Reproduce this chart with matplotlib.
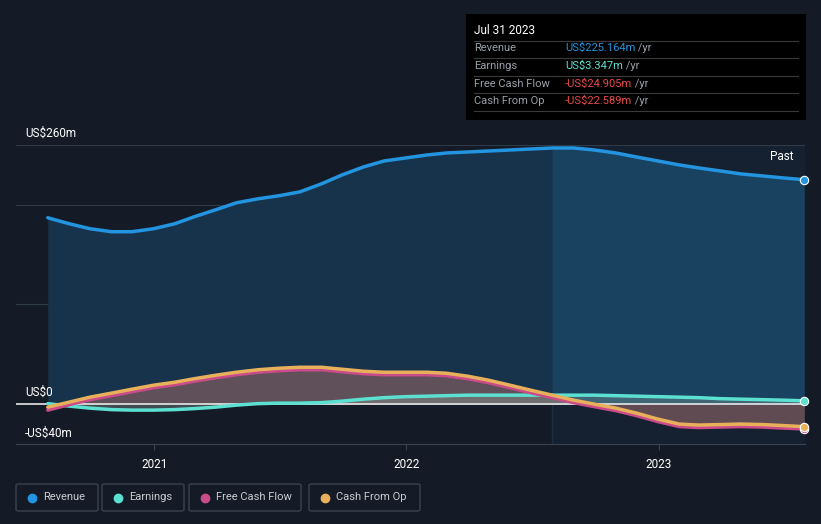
import pandas as pd
import numpy as np
import matplotlib
matplotlib.use('Agg')
from matplotlib import pyplot as plt
from matplotlib.patches import Rectangle, FancyBboxPatch
from matplotlib.lines import Line2D

plt.rcParams['font.family'] = ['Roboto', 'DejaVu Sans']

# month-end dates, Jul 2020 .. Jul 2023; values in US$m
dates = pd.date_range('2020-07-31', '2023-07-31', freq='ME')
revenue = [187, 181, 176, 173, 173, 176, 181, 188, 195, 202,
           206, 209, 213, 221, 230, 238, 244, 247, 250, 252,
           253, 254, 255, 256, 257, 257, 255, 252, 248, 244,
           240, 237, 234, 231, 229, 227, 225.164]
earnings = [0.5, -2, -4, -5.5, -6, -6, -5.5, -4.5, -3, -1,
            0.5, 1, 1, 1.5, 3, 5, 6.5, 7.5, 8, 8.5,
            9, 9, 9, 9, 9, 9, 9, 8.5, 8, 7.5,
            7, 6.5, 5.5, 5, 4.5, 4, 3.347]
cash_from_op = [-3, 2, 7, 11, 15, 19, 22, 25.5, 29, 32,
                34.5, 36, 37, 37, 35, 33, 32, 32, 32, 31,
                28, 24, 19, 14, 9, 4, 0, -4, -9, -15,
                -20, -21, -20.5, -20, -20.5, -21.5, -22.589]
free_cash_flow = [-6, -0.5, 4.5, 8.5, 12.5, 16.5, 19.5, 23, 26.5, 29.5,
                  32, 33.5, 34.5, 34.5, 32.5, 30.5, 29.5, 29.5, 29.5, 28.5,
                  25.5, 21.5, 16.5, 11.5, 6.5, 1.5, -2.5, -6.5, -11.5, -17.5,
                  -22.5, -23.5, -23, -22.5, -23, -24, -24.905]

series_names = ['Revenue', 'Earnings', 'Free Cash Flow', 'Cash From Op']
series_colors = ['#2394df', '#5ce0d0', '#c94b8a', '#e8b05a']
ytick_vals = [260, 0, -40]
ytick_labels = ['US$260m', 'US$0', '-US$40m']
xtick_years = ['2021', '2022', '2023']

bg = '#151b26'
fig = plt.figure(figsize=(8.21, 5.24), dpi=100)
fig.patch.set_facecolor(bg)

W, H = 821, 524
ax = fig.add_axes([16 / W, (H - 444) / H, 789 / W, 299 / H])
ax.set_facecolor(bg)

x0 = pd.Timestamp('2020-06-15')
x1 = pd.Timestamp('2023-08-01')
ax.set_xlim(x0, x1)
ax.set_ylim(-40, 260)

past = pd.Timestamp('2022-07-31')
ax.axvspan(past, x1, color='#16283a', alpha=0.5, lw=0, zorder=0)
ax.axvline(past, color='#1c2f42', lw=1, zorder=0.5)

# gridlines
for g in [100, 200, 260]:
    ax.axhline(g, color='#2f3a48', lw=0.8, zorder=0.6)
ax.axhline(0, color='#e8e8e8', lw=1.2, zorder=4)

d = np.array(dates)
rev = np.array(revenue)
pre = d <= np.datetime64(past)
post = d >= np.datetime64(past)
ax.fill_between(d, 0, rev, where=pre, color='#17334c', lw=0, zorder=1)
ax.fill_between(d, 0, rev, where=post, color='#184260', lw=0, zorder=1)

ax.fill_between(d, 0, cash_from_op, color='#7a5a5e', alpha=0.75, lw=0, zorder=2)
ax.fill_between(d, 0, earnings, color='#8aa8a0', alpha=0.35, lw=0, zorder=2)

ax.plot(d, revenue, color=series_colors[0], lw=2.5, zorder=5, solid_capstyle='round')
ax.plot(d, earnings, color=series_colors[1], lw=2.5, zorder=5, solid_capstyle='round')
ax.plot(d, free_cash_flow, color=series_colors[2], lw=2.5, zorder=5, solid_capstyle='round')
ax.plot(d, cash_from_op, color=series_colors[3], lw=2.5, zorder=6, solid_capstyle='round')

for vals, c in zip([revenue, earnings, free_cash_flow, cash_from_op], series_colors):
    ax.plot(d[-1], vals[-1], 'o', ms=6, mfc=c, mec='white', mew=0.8, zorder=7, clip_on=False)

for sp in ['top', 'left', 'right']:
    ax.spines[sp].set_visible(False)
ax.spines['bottom'].set_color('#3a4350')
ax.set_yticks([])
ax.set_xticks(pd.to_datetime([y + '-01-01' for y in xtick_years]))
ax.set_xticklabels(xtick_years, color='white', fontsize=8.5)
ax.tick_params(axis='x', colors='#3a4350', length=4, pad=6, labelcolor='white')

for v, lab in zip(ytick_vals, ytick_labels):
    ax.annotate(lab, xy=(0, v), xycoords=('axes fraction', 'data'),
                xytext=(6.5, 4 if v != -40 else 3), textcoords='offset points',
                color='white', fontsize=8.5, va='bottom')

ax.text(0.985, 0.96, 'Past', transform=ax.transAxes, color='white',
        fontsize=8.5, ha='right', va='center')

# tooltip box
tb = Rectangle((466 / W, 1 - 120 / H), 340 / W, 106 / H, transform=fig.transFigure,
               facecolor='black', edgecolor='none', zorder=10)
fig.patches.append(tb)
fig.text(474 / W, 1 - 30 / H, 'Jul 31 2023', color='white', fontsize=8.5,
         va='center', zorder=11)
row_vals = ['US$225.164m', 'US$3.347m', '-US$24.905m', '-US$22.589m']
row_colors = ['#2394df', '#5ce0d0', '#e84a4a', '#e84a4a']
row_y = [48, 66, 84, 101]
for name, val, c, y in zip(series_names, row_vals, row_colors, row_y):
    fig.text(474 / W, 1 - y / H, name, color='#9aa0a8', fontsize=8, va='center', zorder=11)
    t = fig.text(565 / W, 1 - y / H, val, color=c, fontsize=8, va='center', zorder=11)
    fig.add_artist(plt.Annotation(' /yr', xy=(1, 0.5), xycoords=t, va='center',
                                  color='#9aa0a8', fontsize=8, zorder=11))
for y in [41, 58, 76, 93, 111]:
    fig.add_artist(Line2D([474 / W, 798 / W], [1 - y / H, 1 - y / H], color='#3a3a3a',
                          lw=0.8, transform=fig.transFigure, zorder=11))

# legend buttons
btn = [(16, 98), (102, 184), (189, 301), (309, 420)]
for (bx0, bx1), name, c in zip(btn, series_names, series_colors):
    fig.patches.append(FancyBboxPatch((bx0 / W, 1 - 511 / H), (bx1 - bx0) / W, 27 / H,
                                      boxstyle='round,pad=0,rounding_size=0.003',
                                      transform=fig.transFigure, facecolor=bg,
                                      edgecolor='#3a4350', lw=1))
    fig.add_artist(Line2D([(bx0 + 16) / W], [1 - 497.5 / H], marker='o', ms=6,
                          color=c, transform=fig.transFigure))
    fig.text((bx0 + 27) / W, 1 - 497.5 / H, name, color='#c8ccd2', fontsize=8,
             va='center')

fig.savefig('out.png', dpi=100, facecolor=bg)
